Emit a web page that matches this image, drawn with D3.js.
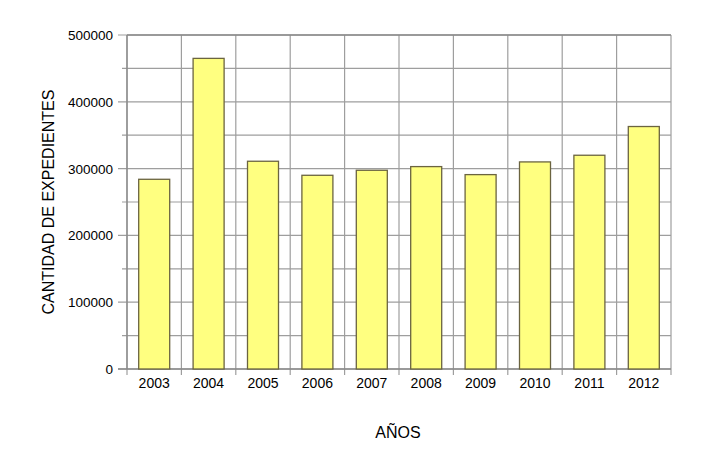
<!DOCTYPE html>
<html><head><meta charset="utf-8">
<script src="https://cdn.jsdelivr.net/npm/d3@7"></script>
<style>body{margin:0;background:#fff}svg{display:block}text{font-family:"Liberation Sans",Arial,sans-serif;fill:#000}</style>
</head><body><svg id="c" width="712" height="475"></svg>
<script>
const years = ["2003","2004","2005","2006","2007","2008","2009","2010","2011","2012"];
const expedientes = [284000,465000,311000,290000,297500,303000,291000,310000,320000,363000];
const yTicks = [0,100000,200000,300000,400000,500000];
const yTitle = "CANTIDAD DE EXPEDIENTES";
const xTitle = "AÑOS";

const svg = d3.select("#c");
const L=127,R=671,T=35,B=369;
const x = d3.scaleBand().domain(years).range([L,R]).paddingInner(0.43).paddingOuter(0.215);
const y = d3.scaleLinear().domain([0,500000]).range([B,T]);
const step = x.step();

// horizontal grid (major + minor)
const minor = d3.range(0,500001,50000);
svg.append("g").selectAll("line").data(minor).join("line")
  .attr("x1",d=> d%100000===0 ? L-9 : L-5).attr("x2",R)
  .attr("y1",d=>y(d)).attr("y2",d=>y(d))
  .attr("stroke","#9e9e9e").attr("stroke-width",1.2);
// vertical grid
const bounds = d3.range(0,years.length+1).map(i=>L+i*step);
svg.append("g").selectAll("line").data(bounds).join("line")
  .attr("x1",d=>d).attr("x2",d=>d).attr("y1",T).attr("y2",B+6)
  .attr("stroke","#9e9e9e").attr("stroke-width",1.2);
// axis lines
svg.append("line").attr("x1",L).attr("x2",L).attr("y1",T).attr("y2",B).attr("stroke","#888").attr("stroke-width",1.3);
svg.append("line").attr("x1",L-9).attr("x2",R).attr("y1",B).attr("y2",B).attr("stroke","#888").attr("stroke-width",1.3);
svg.append("line").attr("x1",L).attr("x2",R).attr("y1",T).attr("y2",T).attr("stroke","#888").attr("stroke-width",1.3);

// bars
svg.append("g").selectAll("rect").data(years).join("rect")
  .attr("x",d=>x(d)).attr("width",x.bandwidth())
  .attr("y",(d,i)=>y(expedientes[i])).attr("height",(d,i)=>B-y(expedientes[i]))
  .attr("fill","#ffff80").attr("stroke","#6b6440").attr("stroke-width",1.3);

// y tick labels
svg.append("g").selectAll("text").data(yTicks).join("text")
  .attr("x",L-14).attr("y",d=>y(d)+5).attr("text-anchor","end")
  .attr("font-size",13.5).text(d=>d);
// x tick labels
svg.append("g").selectAll("text").data(years).join("text")
  .attr("x",d=>x(d)+x.bandwidth()/2).attr("y",B+19).attr("text-anchor","middle")
  .attr("font-size",14).text(d=>d);
// titles
svg.append("text").attr("transform","translate(54,202) rotate(-90)").attr("text-anchor","middle")
  .attr("font-size",16).text(yTitle);
svg.append("text").attr("x",398).attr("y",438).attr("text-anchor","middle")
  .attr("font-size",16).text(xTitle);
</script></body></html>
